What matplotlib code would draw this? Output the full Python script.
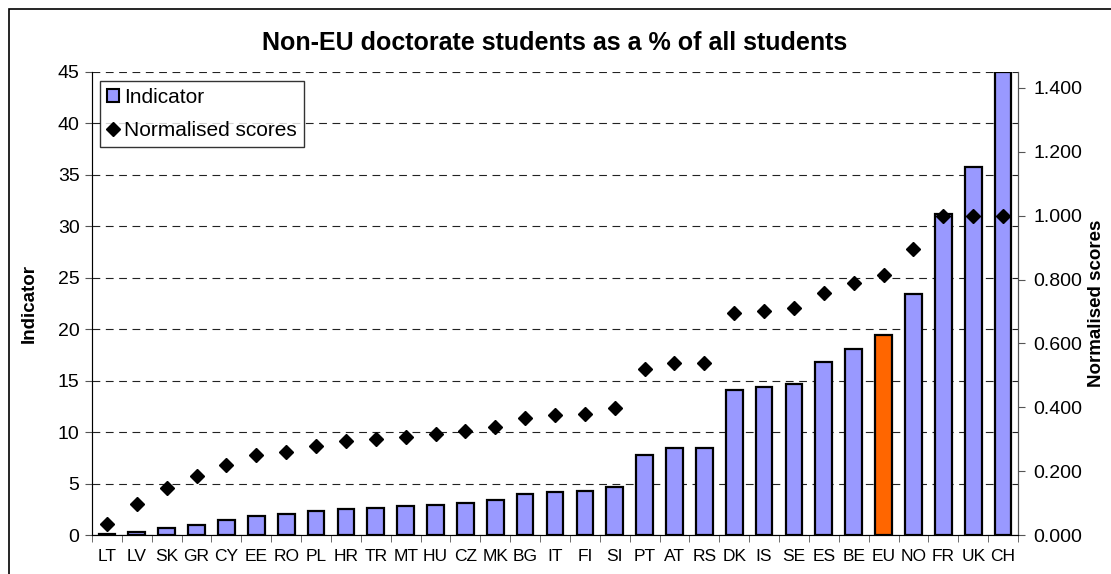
import matplotlib.pyplot as plt
from matplotlib.lines import Line2D
from matplotlib.patches import Patch, Rectangle

plt.rcParams['font.family'] = ['Liberation Sans', 'DejaVu Sans']

countries = ['LT', 'LV', 'SK', 'GR', 'CY', 'EE', 'RO', 'PL', 'HR', 'TR', 'MT',
             'HU', 'CZ', 'MK', 'BG', 'IT', 'FI', 'SI', 'PT', 'AT', 'RS', 'DK',
             'IS', 'SE', 'ES', 'BE', 'EU', 'NO', 'FR', 'UK', 'CH']
indicator = [0.1, 0.3, 0.65, 1.0, 1.45, 1.85, 2.0, 2.3, 2.55, 2.65, 2.8,
             2.95, 3.15, 3.4, 4.0, 4.15, 4.25, 4.65, 7.8, 8.45, 8.5, 14.1,
             14.4, 14.7, 16.8, 18.1, 19.4, 23.4, 31.2, 35.8, 45.0]
scores = [0.034, 0.097, 0.148, 0.185, 0.219, 0.25, 0.261, 0.278, 0.294, 0.30, 0.308,
          0.317, 0.326, 0.339, 0.367, 0.376, 0.38, 0.397, 0.52, 0.54, 0.54, 0.695,
          0.70, 0.71, 0.757, 0.79, 0.815, 0.895, 1.0, 1.0, 1.0]
score_ticks = [0, 0.2, 0.4, 0.6, 0.8, 1.0, 1.2, 1.4]

bar_col = '#9999FF'
eu_col = '#FF6600'
colors = [eu_col if c == 'EU' else bar_col for c in countries]

fig = plt.figure(figsize=(11.11, 5.74), dpi=100)
ax = fig.add_axes([92 / 1111, 1 - 535 / 574, (1018 - 92) / 1111, (535 - 72) / 574])
ax2 = ax.twinx()

x = range(len(countries))
ax.bar(x, indicator, width=0.56, color=colors, edgecolor='black', linewidth=1.6, zorder=3)
ax.set_xlim(-0.5, len(countries) - 0.5)
ax.set_ylim(0, 45)
ax.set_yticks(range(0, 46, 5))
ax.yaxis.grid(True, linestyle=(0, (7, 5)), color='#222222', linewidth=0.8, zorder=0)
ax.set_axisbelow(True)
ax.set_xticks(list(x))
ax.set_xticklabels(countries, fontsize=12.5)
ax.set_xticks([i - 0.5 for i in range(len(countries) + 1)], minor=True)
ax.tick_params(axis='x', which='major', length=0, pad=10)
ax.tick_params(axis='x', which='minor', length=5, color='#555555')
ax.tick_params(axis='y', labelsize=14, length=5, color='#555555', pad=4)
ax.set_ylabel('Indicator', fontsize=13.5, fontweight='bold', labelpad=14)
ax.spines['top'].set_visible(False)
for s in ['left', 'bottom', 'right']:
    ax.spines[s].set_color('#555555')

ax2.plot(list(x), scores, linestyle='none', marker='D', markersize=7.5,
         color='black', zorder=4)
ax2.set_ylim(0, 1.45)
ax2.set_yticks(score_ticks)
ax2.set_yticklabels(['%.3f' % v for v in score_ticks])
ax2.tick_params(axis='y', labelsize=14, length=5, color='#555555', pad=6)
ax2.set_ylabel('Normalised scores', fontsize=13.5, fontweight='bold', labelpad=4)
ax2.spines['top'].set_visible(False)
ax2.spines['right'].set_color('#555555')

ax.set_title('Non-EU doctorate students as a % of all students',
             fontsize=18, fontweight='bold', pad=16)

handles = [Patch(facecolor=bar_col, edgecolor='black', linewidth=1.5),
           Line2D([], [], linestyle='none', marker='D', markersize=7.5, color='black')]
leg = ax2.legend(handles, ['Indicator', 'Normalised scores'], loc='upper left',
                 bbox_to_anchor=(0.0086, 0.981), fontsize=15, frameon=True,
                 fancybox=False, edgecolor='black', handlelength=0.55,
                 handleheight=0.55, handletextpad=0.25, borderpad=0.35,
                 labelspacing=0.65, borderaxespad=0)
leg.get_frame().set_linewidth(1.0)

fig.patches.append(Rectangle((9 / 1111, -0.01), 1.2, 1 - 9 / 574 + 0.01,
                             transform=fig.transFigure, fill=False,
                             edgecolor='black', linewidth=1.2))

fig.savefig('out.png', dpi=100)
